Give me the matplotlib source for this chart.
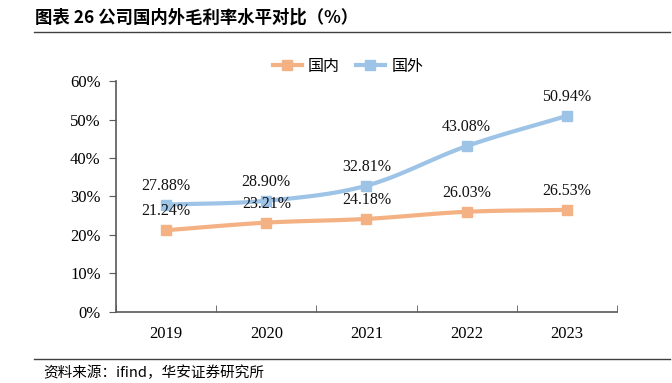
import numpy as np
import matplotlib.pyplot as plt
from matplotlib.lines import Line2D

plt.rcParams['font.family'] = ['Liberation Serif', 'Noto Sans CJK SC']

years = ['2019', '2020', '2021', '2022', '2023']
domestic = [21.24, 23.21, 24.18, 26.03, 26.53]
overseas = [27.88, 28.90, 32.81, 43.08, 50.94]
yticks = [0, 10, 20, 30, 40, 50, 60]

c_dom = '#F4B183'
c_ovs = '#9DC3E6'


# Catmull-Rom smoothing, like the "smoothed line" option in Excel charts
def smooth(x, y, n=30):
    x = np.asarray(x, float)
    y = np.asarray(y, float)
    px = np.concatenate([[2 * x[0] - x[1]], x, [2 * x[-1] - x[-2]]])
    py = np.concatenate([[2 * y[0] - y[1]], y, [2 * y[-1] - y[-2]]])
    xs, ys = [], []
    t = np.linspace(0, 1, n)
    for i in range(1, len(px) - 2):
        for p, out in ((px, xs), (py, ys)):
            p0, p1, p2, p3 = p[i - 1], p[i], p[i + 1], p[i + 2]
            out.extend(0.5 * (2 * p1 + (-p0 + p2) * t
                              + (2 * p0 - 5 * p1 + 4 * p2 - p3) * t ** 2
                              + (-p0 + 3 * p1 - 3 * p2 + p3) * t ** 3))
    return np.array(xs), np.array(ys)


fig = plt.figure(figsize=(6.72, 3.83), dpi=100)
ax = fig.add_axes([0.1726, 0.1854, 0.918 - 0.1726, 0.7885 - 0.1854])

x = np.arange(len(years))
for vals, col in ((domestic, c_dom), (overseas, c_ovs)):
    sx, sy = smooth(x, vals)
    ax.plot(sx, sy, color=col, lw=3, solid_capstyle='round', zorder=2)
    ax.plot(x, vals, ls='none', marker='s', ms=7, color=col, zorder=3)
    for xi, v in zip(x, vals):
        ax.annotate(f'{v:.2f}%', (xi, v), xytext=(0, 8), textcoords='offset points',
                    ha='center', va='bottom', fontsize=11.5, color='#111111', zorder=4)

ax.set_xlim(-0.5, len(years) - 0.5)
ax.set_ylim(0, 60)
ax.set_yticks(yticks)
ax.set_yticklabels([f'{v}%' for v in yticks], fontsize=12)
ax.set_xticks(x)
ax.set_xticklabels(years, fontsize=12)
ax.set_xticks(np.arange(len(years) + 1) - 0.5, minor=True)
ax.tick_params(axis='x', which='major', length=0, pad=10)
ax.tick_params(axis='x', which='minor', length=5, direction='in', color='#595959')
ax.tick_params(axis='y', length=5, direction='out', color='#595959', pad=6)
for s in ['top', 'right']:
    ax.spines[s].set_visible(False)
for s in ['left', 'bottom']:
    ax.spines[s].set_color('#595959')
    ax.spines[s].set_linewidth(1.2)

handles = [Line2D([], [], color=c_dom, lw=3, marker='s', ms=7),
           Line2D([], [], color=c_ovs, lw=3, marker='s', ms=7)]
fig.legend(handles, ['国内', '国外'], loc='center', bbox_to_anchor=(348 / 672, 1 - 66 / 383),
           ncol=2, frameon=False, handlelength=1.8, columnspacing=1.0,
           handletextpad=0.4, prop={'family': ['Noto Sans CJK SC'], 'size': 11.5})

fig.text(35 / 672, 1 - 18 / 383, '图表 26 公司国内外毛利率水平对比（%）', fontsize=12.5,
         fontweight='bold', family=['Noto Sans CJK SC'], va='center', ha='left')
fig.add_artist(Line2D([34 / 672, 670 / 672], [1 - 32 / 383, 1 - 32 / 383],
                      color='#404040', lw=1))
fig.add_artist(Line2D([34 / 672, 670 / 672], [1 - 359 / 383, 1 - 359 / 383],
                      color='#404040', lw=1))
fig.text(43 / 672, 1 - 373 / 383, '资料来源：ifind，华安证券研究所', fontsize=10.5,
         family=['Noto Sans CJK SC'], va='center', ha='left')

fig.savefig('out.png', dpi=100)
